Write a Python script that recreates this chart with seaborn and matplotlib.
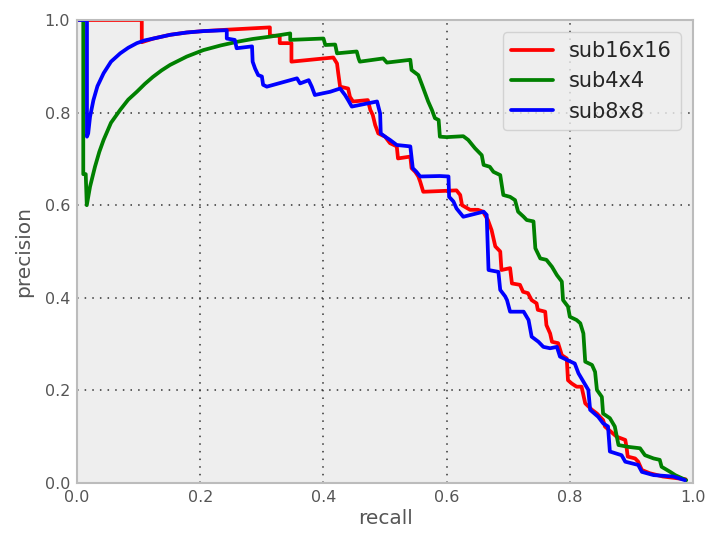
import pandas as pd
import matplotlib
matplotlib.use("Agg")
import matplotlib.pyplot as plt
import seaborn as sns

# precision / recall points
recall_16 = [0.0, 0.105, 0.105, 0.124, 0.151, 0.178, 0.205, 0.243, 0.313, 0.313, 0.329, 0.329, 0.348, 0.348,
             0.416, 0.422, 0.424, 0.427, 0.440, 0.443, 0.448, 0.472, 0.476, 0.480, 0.484, 0.489, 0.500,
             0.508, 0.519, 0.521, 0.541, 0.543, 0.549, 0.554, 0.557, 0.562, 0.616, 0.622, 0.625, 0.638,
             0.651, 0.659, 0.667, 0.673, 0.679, 0.687, 0.689, 0.703, 0.706, 0.719, 0.724, 0.732, 0.738,
             0.746, 0.748, 0.760, 0.762, 0.768, 0.771, 0.781, 0.787, 0.795, 0.797, 0.803, 0.811, 0.819,
             0.825, 0.836, 0.844, 0.854, 0.857, 0.876, 0.890, 0.892, 0.894, 0.906, 0.911, 0.917, 0.930,
             0.951, 0.988]
precision_16 = [1.0, 1.0, 0.952, 0.960, 0.968, 0.973, 0.976, 0.979, 0.984, 0.966, 0.966, 0.950, 0.950, 0.910,
                0.919, 0.906, 0.885, 0.856, 0.852, 0.834, 0.824, 0.827, 0.806, 0.795, 0.773, 0.755, 0.748,
                0.734, 0.727, 0.701, 0.705, 0.680, 0.672, 0.662, 0.651, 0.629, 0.632, 0.622, 0.600, 0.590,
                0.590, 0.586, 0.568, 0.546, 0.511, 0.500, 0.460, 0.464, 0.431, 0.428, 0.413, 0.410, 0.395,
                0.388, 0.374, 0.370, 0.341, 0.323, 0.305, 0.302, 0.276, 0.269, 0.222, 0.215, 0.208, 0.208,
                0.172, 0.158, 0.150, 0.136, 0.122, 0.100, 0.093, 0.078, 0.057, 0.053, 0.046, 0.028, 0.021,
                0.014, 0.008]

recall_4 = [0.010, 0.010, 0.014, 0.0157, 0.021, 0.029, 0.036, 0.043, 0.055, 0.070, 0.083, 0.097, 0.110,
            0.123, 0.137, 0.151, 0.178, 0.205, 0.233, 0.260, 0.285,
            0.313, 0.346, 0.346, 0.400, 0.403, 0.419, 0.422, 0.454, 0.457, 0.459, 0.497, 0.503, 0.541,
            0.543, 0.554, 0.560, 0.565, 0.570, 0.576, 0.581, 0.587, 0.589, 0.600, 0.627, 0.635, 0.646,
            0.657, 0.660, 0.670, 0.676, 0.687, 0.692, 0.703, 0.711, 0.716, 0.725, 0.730, 0.741, 0.744,
            0.752, 0.762, 0.771, 0.779, 0.787, 0.789, 0.797, 0.800, 0.811, 0.817, 0.822, 0.825, 0.836,
            0.841, 0.844, 0.852, 0.854, 0.865, 0.873, 0.879, 0.895, 0.914, 0.922, 0.936, 0.946, 0.949,
            0.963, 0.971, 0.989]
precision_4 = [1.0, 0.667, 0.667, 0.600, 0.640, 0.683, 0.715, 0.741, 0.778, 0.806, 0.828, 0.845, 0.862,
               0.877, 0.891, 0.903, 0.921, 0.935, 0.945, 0.953, 0.959,
               0.964, 0.971, 0.957, 0.960, 0.946, 0.947, 0.928, 0.932, 0.917, 0.910, 0.917, 0.908, 0.914,
               0.892, 0.881, 0.860, 0.842, 0.824, 0.806, 0.788, 0.784, 0.748, 0.747, 0.749, 0.741, 0.723,
               0.708, 0.687, 0.683, 0.672, 0.665, 0.622, 0.618, 0.611, 0.586, 0.575, 0.568, 0.565, 0.507,
               0.485, 0.482, 0.467, 0.449, 0.435, 0.395, 0.381, 0.359, 0.352, 0.345, 0.323, 0.262, 0.255,
               0.240, 0.201, 0.186, 0.150, 0.140, 0.122, 0.082, 0.078, 0.075, 0.060, 0.053, 0.050, 0.035,
               0.024, 0.017, 0.006]

recall_8 = [0.0, 0.016, 0.016, 0.018, 0.021, 0.0265, 0.033, 0.043, 0.055, 0.070, 0.083, 0.097, 0.110, 0.124,
            0.151, 0.178, 0.205, 0.243,
            0.243, 0.256, 0.259, 0.284, 0.285, 0.289, 0.294, 0.300, 0.302, 0.308, 0.357, 0.362, 0.376,
            0.381, 0.386, 0.411, 0.427, 0.435, 0.440, 0.446, 0.487, 0.492, 0.493, 0.500, 0.508, 0.519,
            0.541, 0.545, 0.551, 0.557, 0.589, 0.603, 0.604, 0.611, 0.616, 0.627, 0.660, 0.665, 0.668,
            0.684, 0.687, 0.695, 0.698, 0.703, 0.725, 0.733, 0.738, 0.749, 0.757, 0.768, 0.779, 0.784,
            0.795, 0.808, 0.814, 0.822, 0.830, 0.833, 0.846, 0.854, 0.862, 0.865, 0.884, 0.890, 0.911,
            0.917, 0.936, 0.968, 0.987]
precision_8 = [1.0, 1.0, 0.748, 0.755, 0.791, 0.827, 0.857, 0.885, 0.910, 0.928, 0.940, 0.950, 0.956, 0.960,
               0.968, 0.973, 0.976, 0.978,
               0.960, 0.957, 0.939, 0.943, 0.910, 0.895, 0.881, 0.878, 0.860, 0.856, 0.874, 0.863, 0.870,
               0.856, 0.838, 0.845, 0.852, 0.838, 0.827, 0.813, 0.824, 0.798, 0.755, 0.748, 0.741, 0.730,
               0.727, 0.680, 0.672, 0.662, 0.663, 0.662, 0.618, 0.608, 0.593, 0.575, 0.586, 0.579, 0.460,
               0.456, 0.417, 0.403, 0.395, 0.370, 0.370, 0.352, 0.316, 0.305, 0.294, 0.291, 0.294, 0.273,
               0.266, 0.258, 0.237, 0.219, 0.201, 0.158, 0.143, 0.129, 0.122, 0.068, 0.060, 0.046, 0.039,
               0.024, 0.017, 0.014, 0.006]

series_names = ["sub16x16", "sub4x4", "sub8x8"]
series_colors = ["#ff0000", "#008000", "#0000ff"]

sns.set_style("darkgrid", {
    "axes.facecolor": "#eeeeee",
    "axes.edgecolor": "#bcbcbc",
    "axes.linewidth": 1.5,
})

fig, ax = plt.subplots(figsize=(7.14, 5.36), dpi=100)
fig.subplots_adjust(left=0.108, right=0.9706, top=0.9627, bottom=0.0989)

curves = [(recall_16, precision_16), (recall_4, precision_4), (recall_8, precision_8)]
for (rec, prec), name, col in zip(curves, series_names, series_colors):
    df = pd.DataFrame({"recall": rec, "precision": prec})
    sns.lineplot(data=df, x="recall", y="precision", sort=False, estimator=None,
                 color=col, linewidth=2.7, label=name, ax=ax)

ax.set_xlim(0, 1)
ax.set_ylim(0, 1)
ax.set_xticks([0.0, 0.2, 0.4, 0.6, 0.8, 1.0])
ax.set_yticks([0.0, 0.2, 0.4, 0.6, 0.8, 1.0])
ax.grid(True, color="#333333", linestyle=(0, (1, 4)), linewidth=1.1)
ax.tick_params(length=0, labelsize=11.5, labelcolor="#555555", pad=5)
ax.set_xlabel("recall", fontsize=14.5, color="#555555", labelpad=3)
ax.set_ylabel("precision", fontsize=14.5, color="#555555", labelpad=8)
for sp in ax.spines.values():
    sp.set_color("#bcbcbc")
    sp.set_linewidth(1.5)

leg = ax.legend(loc="upper right", fontsize=15, frameon=True, handlelength=2.0,
                borderaxespad=0.6)
leg.get_frame().set_facecolor("#eeeeee")
leg.get_frame().set_edgecolor("#cccccc")

fig.savefig("out.png", dpi=100)
